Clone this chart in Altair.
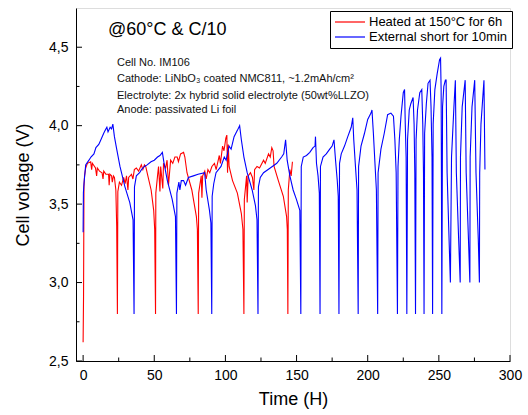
import altair as alt
import pandas as pd

# ---- data ----
red_t = [0.0, 0.3, 0.6, 1.0, 1.8, 3.0, 5.3, 6.0, 6.5, 8.7, 9.5, 10.0, 11.5, 13.3, 14.0, 14.5, 16.0,
         17.9, 18.3, 18.8, 20.0, 20.5, 21.3, 22.0, 23.0, 23.6, 24.1,
         24.4, 25.5, 27.0, 28.5, 29.5, 30.5, 31.5, 32.0, 34.0, 35.0, 36.0, 37.4, 39.0, 40.9, 42.0,
         43.1, 44.0, 45.5, 47.8, 49.6, 50.3, 50.9,
         51.1, 52.3, 53.0, 54.0, 54.5, 56.0, 56.5, 58.0, 59.0, 60.0, 61.5, 63.0, 64.5, 66.1, 67.0,
         68.5, 70.6, 71.5, 73.0, 76.4, 79.6, 80.3, 80.9,
         81.2, 83.0, 83.5, 84.0, 85.5, 86.5, 87.7, 89.0, 90.5, 92.3, 93.5, 95.7, 96.5, 98.0, 99.0,
         100.3, 101.0, 101.5, 102.0, 102.6, 105.0, 108.4, 111.2, 112.3, 113.0,
         113.3, 114.9, 115.3, 116.0, 117.6, 119.0, 120.0, 120.5, 122.2, 124.0, 126.8, 128.0, 130.3,
         131.5, 132.6, 133.5, 134.2, 137.2, 140.7, 143.0, 143.5, 143.9,
         144.2, 145.3, 146.2, 147.1]
red_v = [2.62, 2.91, 3.61, 3.68, 3.73, 3.76, 3.77, 3.72, 3.76, 3.73, 3.68, 3.73, 3.71, 3.70, 3.66, 3.71, 3.69,
         3.69, 3.62, 3.69, 3.68, 3.64, 3.68, 3.67, 3.59, 3.36, 2.80,
         3.58, 3.64, 3.62, 3.67, 3.63, 3.68, 3.59, 3.67, 3.69, 3.66, 3.72, 3.73, 3.71, 3.75, 3.72,
         3.75, 3.74, 3.68, 3.59, 3.46, 3.34, 2.80,
         3.57, 3.68, 3.74, 3.58, 3.74, 3.60, 3.76, 3.73, 3.78, 3.62, 3.78, 3.76, 3.80, 3.80, 3.77,
         3.82, 3.83, 3.80, 3.70, 3.59, 3.42, 3.34, 2.80,
         3.57, 3.68, 3.54, 3.68, 3.71, 3.66, 3.72, 3.70, 3.74, 3.76, 3.72, 3.81, 3.76, 3.87, 3.84,
         3.92, 3.94, 3.70, 3.88, 3.74, 3.65, 3.57, 3.44, 3.34, 2.80,
         3.53, 3.68, 3.51, 3.68, 3.70, 3.67, 3.59, 3.72, 3.74, 3.73, 3.78, 3.76, 3.82,
         3.80, 3.86, 3.84, 3.74, 3.65, 3.55, 3.42, 3.34, 2.80,
         3.59, 3.72, 3.68, 3.77]

blue_t = [0.0, 0.2, 0.6, 1.8, 4.1, 5.5, 7.6, 9.0, 11.0, 12.5, 14.4, 15.5, 16.7, 17.5, 19.0, 20.0, 20.9,
          22.0, 23.6, 25.9, 29.4, 32.8, 35.1, 35.8,
          36.1, 37.4, 39.7, 41.0, 43.1, 45.0, 47.7, 50.0, 52.3, 54.0, 55.7,
          56.9, 59.2, 62.6, 64.9, 65.6,
          65.9, 67.3, 68.0, 69.0, 70.6, 72.0, 74.0, 77.5, 80.8, 85.4,
          86.5, 88.8, 89.8, 90.4,
          90.7, 91.8, 93.4, 96.9, 99.2, 100.5, 102.6, 104.0, 106.1, 108.4, 110.0,
          111.2, 113.0, 115.3, 118.8, 121.1, 122.2, 122.9,
          123.2, 124.5, 126.8, 131.5, 136.1, 139.5, 141.0, 142.3,
          143.4, 145.3, 147.6, 149.9, 152.3, 153.0,
          153.3, 154.7, 157.0, 159.3, 161.6, 163.0, 163.3, 164.0, 165.1, 166.0, 166.5,
          166.8, 168.6, 170.9, 173.3, 175.0, 176.3, 177.4, 178.6, 179.3, 179.8,
          180.2, 181.4, 183.7, 186.0, 188.4, 189.5, 190.2, 191.4, 192.5, 193.3,
          193.6, 195.3, 197.7, 200.0, 202.3, 203.0, 204.0, 205.1, 206.1, 207.0,
          207.3, 209.3, 211.6, 214.0, 216.3, 218.1, 219.1, 220.0, 220.9,
          221.3, 222.2, 223.4, 225.0, 225.9, 226.4, 227.0, 227.5,
          228.0, 229.2, 230.3, 231.9, 232.6, 233.1, 233.6,
          234.0, 235.0, 236.6, 238.0, 238.7, 239.2, 239.6,
          240.0, 241.2, 242.4, 243.8, 244.5, 245.2, 245.6,
          246.0, 247.2, 248.8, 250.5, 251.2, 251.6, 251.8, 252.1,
          252.6, 253.5, 254.6, 255.1, 255.8, 256.9, 258.1,
          258.9, 260.6, 261.6, 262.3, 263.9, 265.0,
          265.2, 266.4, 268.5, 269.2, 270.8, 271.8,
          272.0, 273.3, 275.2, 276.1, 277.7, 278.5,
          278.7, 279.6, 281.7, 282.4]
blue_v = [3.32, 3.57, 3.63, 3.75, 3.78, 3.80, 3.82, 3.86, 3.88, 3.91, 3.95, 3.97, 3.99, 3.96, 3.99, 3.98, 4.01,
          3.93, 3.85, 3.74, 3.61, 3.51, 3.40, 2.80,
          3.61, 3.68, 3.70, 3.72, 3.74, 3.75, 3.77, 3.78, 3.80, 3.81, 3.83,
          3.76, 3.65, 3.53, 3.42, 2.80,
          3.57, 3.64, 3.59, 3.65, 3.65, 3.62, 3.67, 3.68, 3.69, 3.70,
          3.59, 3.46, 3.38, 2.80,
          3.55, 3.63, 3.70, 3.74, 3.80, 3.78, 3.87, 3.85, 3.93, 3.97, 4.00,
          3.91, 3.80, 3.70, 3.59, 3.49, 3.40, 2.80,
          3.61, 3.67, 3.70, 3.73, 3.76, 3.80, 3.82, 3.91,
          3.78, 3.68, 3.59, 3.53, 3.46, 2.80,
          3.74, 3.80, 3.81, 3.83, 3.86, 3.87, 3.93, 3.76, 3.68, 3.57, 2.80,
          3.74, 3.80, 3.82, 3.85, 3.87, 3.91, 3.78, 3.65, 3.55, 2.80,
          3.76, 3.82, 3.87, 3.93, 3.99, 4.05, 3.91, 3.74, 3.59, 2.80,
          3.74, 3.87, 3.95, 4.04, 4.08, 4.10, 3.95, 3.76, 3.59, 2.80,
          3.70, 3.85, 3.95, 4.07, 4.08, 4.06, 3.91, 3.70, 2.80,
          3.74, 3.91, 4.06, 4.21, 4.23, 4.01, 3.80, 2.80,
          3.91, 4.10, 4.14, 4.18, 4.01, 3.70, 2.80,
          3.91, 4.10, 4.21, 4.23, 4.01, 3.70, 2.80,
          3.95, 4.14, 4.27, 4.29, 4.12, 3.80, 2.80,
          4.01, 4.23, 4.33, 4.42, 4.43, 4.23, 3.70, 2.80,
          4.12, 4.25, 4.29, 4.29, 3.70, 3.36, 3.00,
          3.80, 4.12, 4.29, 3.70, 3.28, 3.00,
          3.80, 4.12, 4.29, 3.70, 3.28, 3.00,
          3.80, 4.12, 4.29, 3.70, 3.28, 3.00,
          3.70, 4.01, 4.29, 3.72]

series_names = ["Heated at 150°C for 6h", "External short for 10min"]
series_colors = ["#ff0000", "#0000ff"]

x_major = [0, 50, 100, 150, 200, 250, 300]
x_minor = [25, 75, 125, 175, 225, 275]
y_major = [2.5, 3.0, 3.5, 4.0, 4.5]
y_minor = [2.75, 3.25, 3.75, 4.25]

condition_text = "@60°C & C/10"
note_lines = ["Cell No. IM106",
              "Cathode: LiNbO\u2083 coated NMC811, ~1.2mAh/cm\u00b2",
              "Electrolyte: 2x hybrid solid electrolyte (50wt%LLZO)",
              "Anode: passivated Li foil"]

# ---- tables ----
red_df = pd.DataFrame({"t": red_t, "v": red_v, "s": series_names[0], "i": range(len(red_t))})
blue_df = pd.DataFrame({"t": blue_t, "v": blue_v, "s": series_names[1], "i": range(len(blue_t))})

FONT = "Liberation Sans"
W, H = 434, 353
xs = alt.Scale(domain=[-5, 300], nice=False, zero=False)
ys = alt.Scale(domain=[2.5, 4.75], nice=False, zero=False)
cs = alt.Scale(domain=series_names, range=series_colors)

x_axis = alt.Axis(values=x_major, title="Time (H)", format="d", ticks=False, tickSize=0,
                  labelPadding=7, titlePadding=8, labelFontSize=14, titleFontSize=18,
                  labelFont=FONT, titleFont=FONT, titleFontWeight="normal",
                  labelColor="black", titleColor="black", domainColor="black",
                  grid=False, labelFlush=False, labelOverlap=False)
y_axis = alt.Axis(values=y_major, title="Cell voltage (V)", ticks=False, tickSize=0,
                  labelExpr="replace(format(datum.value, '.1f'), '.', ',')",
                  labelPadding=8, titlePadding=16, labelFontSize=14, titleFontSize=18,
                  labelFont=FONT, titleFont=FONT, titleFontWeight="normal",
                  labelColor="black", titleColor="black", domainColor="black",
                  grid=False, labelFlush=False, labelOverlap=False)

legend = alt.Legend(title=None, orient="none", legendX=254, legendY=3, direction="vertical",
                    strokeColor="black", fillColor="white", padding=4,
                    symbolType="M-2.5,0H2.5", symbolSize=144, symbolStrokeWidth=1.2,
                    symbolOffset=9, labelOffset=12, labelFontSize=13, labelFont=FONT,
                    labelColor="black", labelLimit=0, rowPadding=1)

red_line = alt.Chart(red_df).mark_line(strokeWidth=1.1).encode(
    x=alt.X("t:Q", scale=xs, axis=x_axis),
    y=alt.Y("v:Q", scale=ys, axis=y_axis),
    color=alt.Color("s:N", scale=cs, legend=legend),
    order="i:Q")
blue_line = alt.Chart(blue_df).mark_line(strokeWidth=1.1).encode(
    x=alt.X("t:Q", scale=xs, axis=x_axis),
    y=alt.Y("v:Q", scale=ys, axis=y_axis),
    color=alt.Color("s:N", scale=cs, legend=legend),
    order="i:Q")

def xticks(vals, length):
    return alt.Chart(pd.DataFrame({"t": vals})).mark_rule(color="black", strokeWidth=1).encode(
        x=alt.X("t:Q", scale=xs, axis=x_axis), y=alt.value(H), y2=alt.value(H - length))

def yticks(vals, length):
    return alt.Chart(pd.DataFrame({"v": vals})).mark_rule(color="black", strokeWidth=1).encode(
        y=alt.Y("v:Q", scale=ys, axis=y_axis), x=alt.value(0), x2=alt.value(length))

cond = alt.Chart(pd.DataFrame({"txt": [condition_text]})).mark_text(
    font=FONT, fontSize=18, align="left", baseline="alphabetic", color="black").encode(
    text="txt:N", x=alt.value(32), y=alt.value(27))

note_y = [58, 74, 91, 105]
notes = [alt.Chart(pd.DataFrame({"txt": [line]})).mark_text(
    font=FONT, fontSize=11, align="left", baseline="alphabetic", color="#111111").encode(
    text="txt:N", x=alt.value(41), y=alt.value(yy)) for line, yy in zip(note_lines, note_y)]

chart = alt.layer(
    red_line, blue_line,
    xticks(x_major, 6), xticks(x_minor, 3.5), yticks(y_major, 6), yticks(y_minor, 3.5),
    cond, *notes
).properties(
    width=W, height=H,
    padding={"left": 76, "top": 8, "right": 18, "bottom": 54},
    autosize=alt.AutoSizeParams(type="none"),
).configure_view(stroke="black", strokeWidth=1).configure(background="white")

chart.save("out.html", embed_options={"renderer": "svg", "actions": False})
